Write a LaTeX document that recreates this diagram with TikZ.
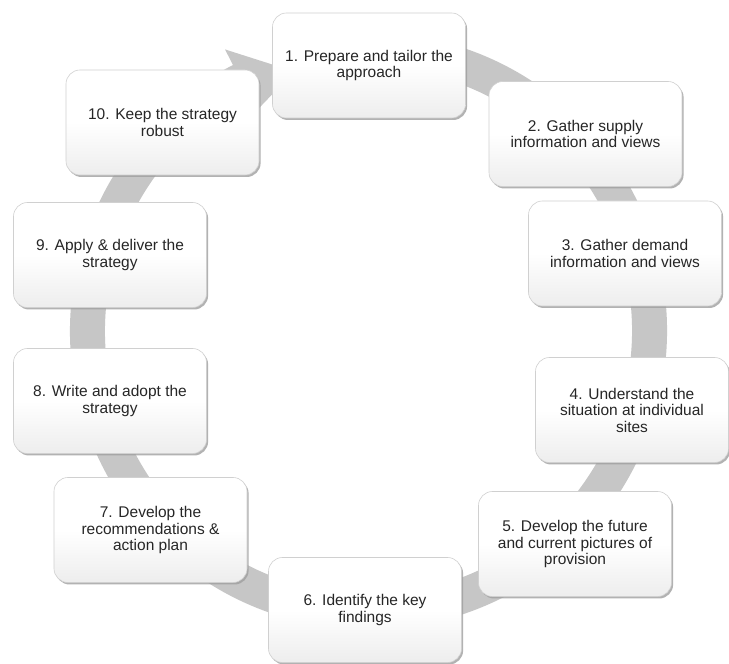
\documentclass[tikz,border=0pt]{standalone}
\usepackage{fontspec}
\setmainfont{Liberation Sans}
\usetikzlibrary{shadows}
\definecolor{ringcol}{HTML}{C6C6C6}
\definecolor{txtcol}{HTML}{262626}
\definecolor{boxline}{HTML}{D0D0D0}
\tikzset{
  stepbox/.style={rectangle, rounded corners=14pt, draw=boxline, line width=0.6pt,
    top color=white, bottom color=gray!14, middle color=white,
    minimum width=193pt, minimum height=105pt, align=center, text=txtcol,
    font=\fontsize{15.5}{16.5}\selectfont,
    drop shadow={shadow xshift=1.6pt, shadow yshift=-2pt, fill=gray!75, opacity=0.8}},
}
\begin{document}
\begin{tikzpicture}[x=1pt,y=1pt]
\useasboundingbox (0,0) rectangle (729,664);
\fill[white] (0,0) rectangle (729,664);
% ring with arrowhead
\begin{scope}[shift={(368.5,333)}]
\fill[ringcol] (80:298.5) arc[start angle=80, end angle=-243, radius=298.5pt]
  -- (-243:316) -- (-254:270) -- (-243:247) -- (-243:263.5)
  arc[start angle=-243, end angle=80, radius=263.5pt] -- cycle;
\end{scope}
\node[stepbox] (s1) at (369,598.5) {1. Prepare and tailor the\\approach};
\node[stepbox] (s2) at (585.5,530) {2. Gather supply\\information and views};
\node[stepbox] (s3) at (625,410.5) {3. Gather demand\\information and views};
\node[stepbox] (s4) at (632,254) {4. Understand the\\situation at individual\\sites};
\node[stepbox] (s5) at (575,120) {5. Develop the future\\and current pictures of\\provision};
\node[stepbox] (s6) at (365,54) {6. Identify the key\\findings};
\node[stepbox] (s7) at (150.5,134) {7. Develop the\\recommendations \&\\action plan};
\node[stepbox] (s8) at (110,263) {8. Write and adopt the\\strategy};
\node[stepbox] (s9) at (110,409) {9. Apply \& deliver the\\strategy};
\node[stepbox] (s10) at (162.5,541.5) {10. Keep the strategy\\robust};
\end{tikzpicture}
\end{document}
